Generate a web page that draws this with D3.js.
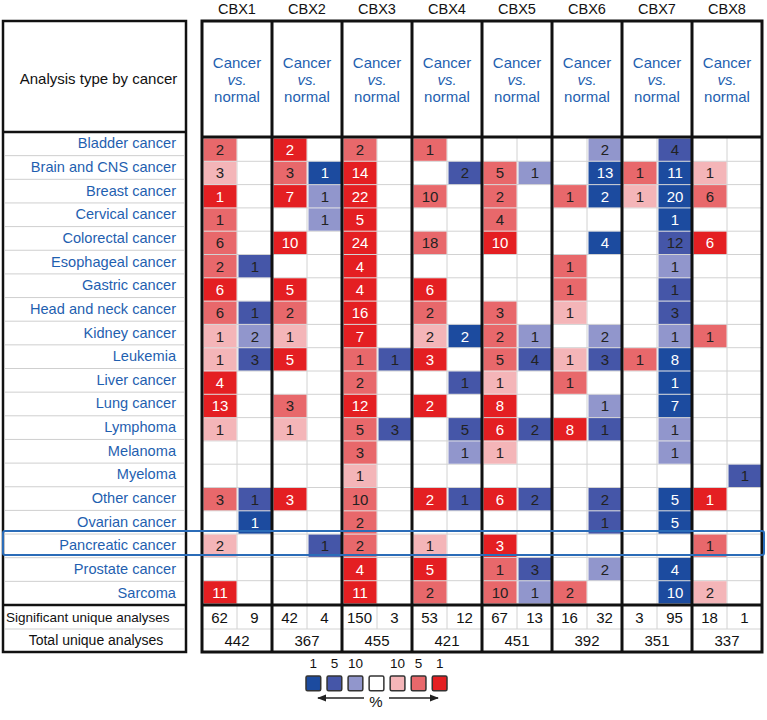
<!DOCTYPE html>
<html>
<head>
<meta charset="utf-8">
<script src="https://cdn.jsdelivr.net/npm/d3@7"></script>
<style>
html,body{margin:0;padding:0;background:#fff;}
svg text{font-family:"Liberation Sans",Arial,Helvetica,sans-serif;}
</style>
</head>
<body>
<svg id="chart" width="767" height="720"></svg>
<script>
const genes = ["CBX1","CBX2","CBX3","CBX4","CBX5","CBX6","CBX7","CBX8"];
const cancers = ["Bladder cancer","Brain and CNS cancer","Breast cancer","Cervical cancer","Colorectal cancer",
  "Esophageal cancer","Gastric cancer","Head and neck cancer","Kidney cancer","Leukemia","Liver cancer",
  "Lung cancer","Lymphoma","Melanoma","Myeloma","Other cancer","Ovarian cancer","Pancreatic cancer",
  "Prostate cancer","Sarcoma"];
const highlighted = "Pancreatic cancer";

// over-expression analyses (cancer > normal): rows = cancers, cols = genes
const upCounts = [
  [2,2,2,1,null,null,null,null],
  [3,3,14,null,5,null,1,1],
  [1,7,22,10,2,1,1,6],
  [1,null,5,null,4,null,null,null],
  [6,10,24,18,10,null,null,6],
  [2,null,4,null,null,1,null,null],
  [6,5,4,6,null,1,null,null],
  [6,2,16,2,3,1,null,null],
  [1,1,7,2,2,null,null,1],
  [1,5,1,3,5,1,1,null],
  [4,null,2,null,1,1,null,null],
  [13,3,12,2,8,null,null,null],
  [1,1,5,null,6,8,null,null],
  [null,null,3,null,1,null,null,null],
  [null,null,1,null,null,null,null,null],
  [3,3,10,2,6,null,null,1],
  [null,null,2,null,null,null,null,null],
  [2,null,2,1,3,null,null,1],
  [null,null,4,5,1,null,null,null],
  [11,null,11,2,10,2,null,2]
];
// best gene rank percentile (1, 5, 10 %) of the over-expression cells; 0 = none
const upRanks = [
  [5,1,5,5,0,0,0,0],
  [10,5,1,0,5,0,5,10],
  [1,1,1,5,5,5,10,5],
  [5,0,1,0,5,0,0,0],
  [5,1,1,5,1,0,0,1],
  [5,0,1,0,0,5,0,0],
  [1,1,1,1,0,5,0,0],
  [5,5,1,5,5,10,0,0],
  [10,10,1,10,5,0,0,5],
  [10,1,5,1,5,10,5,0],
  [1,0,5,0,10,5,0,0],
  [1,5,1,1,1,0,0,0],
  [10,10,5,0,1,1,0,0],
  [0,0,5,0,10,0,0,0],
  [0,0,10,0,0,0,0,0],
  [5,1,5,1,1,0,0,1],
  [0,0,5,0,0,0,0,0],
  [10,0,5,10,1,0,0,5],
  [0,0,1,1,5,0,0,0],
  [1,0,1,5,5,5,0,10]
];
// under-expression analyses (cancer < normal)
const downCounts = [
  [null,null,null,null,null,2,4,null],
  [null,1,null,2,1,13,11,null],
  [null,1,null,null,null,2,20,null],
  [null,1,null,null,null,null,1,null],
  [null,null,null,null,null,4,12,null],
  [1,null,null,null,null,null,1,null],
  [null,null,null,null,null,null,1,null],
  [1,null,null,null,null,null,3,null],
  [2,null,null,2,1,2,1,null],
  [3,null,1,null,4,3,8,null],
  [null,null,null,1,null,null,1,null],
  [null,null,null,null,null,1,7,null],
  [null,null,3,5,2,1,1,null],
  [null,null,null,1,null,null,1,null],
  [null,null,null,null,null,null,null,1],
  [1,null,null,1,2,2,5,null],
  [1,null,null,null,null,1,5,null],
  [null,1,null,null,null,null,null,null],
  [null,null,null,null,3,2,4,null],
  [null,null,null,null,1,null,10,null]
];
const downRanks = [
  [0,0,0,0,0,10,5,0],
  [0,1,0,5,10,1,1,0],
  [0,10,0,0,0,1,1,0],
  [0,10,0,0,0,0,1,0],
  [0,0,0,0,0,1,5,0],
  [5,0,0,0,0,0,10,0],
  [0,0,0,0,0,0,5,0],
  [5,0,0,0,0,0,5,0],
  [10,0,0,1,10,10,10,0],
  [5,0,5,0,5,5,1,0],
  [0,0,0,5,0,0,1,0],
  [0,0,0,0,0,10,1,0],
  [0,0,5,5,5,5,10,0],
  [0,0,0,10,0,0,10,0],
  [0,0,0,0,0,0,0,5],
  [5,0,0,5,5,5,1,0],
  [1,0,0,0,0,5,1,0],
  [0,5,0,0,0,0,0,0],
  [0,0,0,0,5,10,1,0],
  [0,0,0,0,10,0,1,0]
];
const sigUp = [62,42,150,53,67,16,3,18];
const sigDown = [9,4,3,12,13,32,95,1];
const totals = [442,367,455,421,451,392,351,337];
const legendLabels = ["1","5","10","","10","5","1"];
const legendDirections = ["down","down","down","none","up","up","up"];
const legendRanks = [1,5,10,0,10,5,1];

const svg = d3.select("#chart");
const blue = "#1f5fb0";
const redColor = d3.scaleOrdinal().domain([1,5,10]).range(["#e41f22","#e8686b","#f4b5b8"]);
const blueColor = d3.scaleOrdinal().domain([1,5,10]).range(["#1c4b9f","#4556a8","#9196cc"]);

// scales
const xGroup = d3.scaleBand().domain(genes).range([202, 762]);
const xSub = d3.scaleBand().domain(["up","down"]).range([0, xGroup.bandwidth()]);
const yRow = d3.scaleBand().domain(cancers).range([138, 604]);
const yLeft = d3.scaleBand().domain(cancers).range([132, 605]);
const L = {x0:3, x1:186, top:21, head:132, sig:605, tot:629, bottom:652};
const T = {head:137, sig:605, tot:629, bottom:652};

// gene labels
svg.selectAll("text.gene").data(genes).join("text")
  .attr("class","gene")
  .attr("x", g => xGroup(g) + xGroup.bandwidth()/2)
  .attr("y", 14)
  .attr("text-anchor","middle")
  .attr("font-size", 14.5)
  .attr("fill","#111")
  .text(g => g);

// ---------- left box ----------
const left = svg.append("g");
left.selectAll("line.lrow").data(cancers.slice(1)).join("line")
  .attr("x1", L.x0+2).attr("x2", L.x1-2)
  .attr("y1", c => yLeft(c)).attr("y2", c => yLeft(c))
  .attr("stroke","#cfcfcf").attr("stroke-width",1);
left.append("line").attr("x1",L.x0+2).attr("x2",L.x1-2).attr("y1",L.tot).attr("y2",L.tot)
  .attr("stroke","#cfcfcf").attr("stroke-width",1);
left.selectAll("text.can").data(cancers).join("text")
  .attr("class","can")
  .attr("x", 176)
  .attr("y", c => yLeft(c) + yLeft.bandwidth()/2 + 4.5)
  .attr("text-anchor","end")
  .attr("font-size", 14.6)
  .attr("fill", blue)
  .text(c => c);
left.append("text").attr("x", 98.5).attr("y", 84).attr("text-anchor","middle")
  .attr("font-size",15).attr("fill","#111").text("Analysis type by cancer");
left.append("text").attr("x", 6).attr("y", L.sig + 17).attr("font-size",13.5).attr("fill","#111")
  .text("Significant unique analyses");
left.append("text").attr("x", 96).attr("y", L.tot + 16).attr("text-anchor","middle")
  .attr("font-size",14).attr("fill","#111").text("Total unique analyses");
left.append("rect").attr("x",L.x0).attr("y",L.top).attr("width",L.x1-L.x0).attr("height",L.bottom-L.top)
  .attr("fill","none").attr("stroke","#111").attr("stroke-width",2.5);
[L.head, L.sig].forEach(y => left.append("line").attr("x1",L.x0).attr("x2",L.x1).attr("y1",y).attr("y2",y)
  .attr("stroke","#111").attr("stroke-width",2.5));

// ---------- right table ----------
const tbl = svg.append("g");
// gray grid
tbl.selectAll("line.hrow").data(cancers.slice(1)).join("line")
  .attr("x1",202).attr("x2",762)
  .attr("y1", c => yRow(c)).attr("y2", c => yRow(c))
  .attr("stroke","#d2d2d2").attr("stroke-width",1);
tbl.selectAll("line.vsub").data(genes).join("line")
  .attr("x1", g => xGroup(g) + xSub("down")).attr("x2", g => xGroup(g) + xSub("down"))
  .attr("y1", T.head).attr("y2", T.tot)
  .attr("stroke","#d2d2d2").attr("stroke-width",1);
tbl.append("line").attr("x1",202).attr("x2",762).attr("y1",T.tot).attr("y2",T.tot)
  .attr("stroke","#d2d2d2").attr("stroke-width",1);

// cells
const cells = [];
cancers.forEach((c, i) => {
  genes.forEach((g, j) => {
    if (upCounts[i][j] != null) cells.push({c, g, dir:"up", v:upCounts[i][j], r:upRanks[i][j]});
    if (downCounts[i][j] != null) cells.push({c, g, dir:"down", v:downCounts[i][j], r:downRanks[i][j]});
  });
});
const cellG = tbl.selectAll("g.cell").data(cells).join("g").attr("class","cell")
  .attr("transform", d => `translate(${xGroup(d.g) + xSub(d.dir)},${yRow(d.c)})`);
cellG.append("rect")
  .attr("x", 1.5).attr("y", 0.5)
  .attr("width", xSub.bandwidth() - 2).attr("height", yRow.bandwidth() - 1)
  .attr("fill", d => d.dir === "up" ? redColor(d.r) : blueColor(d.r));
cellG.append("text")
  .attr("x", xSub.bandwidth()/2 + 0.5)
  .attr("y", yRow.bandwidth()/2 + 5.5)
  .attr("text-anchor","middle")
  .attr("font-size", 15)
  .attr("fill", d => d.r === 1 ? "#fff" : "#222")
  .text(d => d.v);

// header text
const head = tbl.selectAll("g.head").data(genes).join("g").attr("class","head")
  .attr("transform", g => `translate(${xGroup(g) + xGroup.bandwidth()/2},0)`);
head.append("text").attr("y", 68).attr("text-anchor","middle").attr("font-size",15).attr("fill",blue).text("Cancer");
head.append("text").attr("y", 85).attr("text-anchor","middle").attr("font-size",15).attr("font-style","italic").attr("fill",blue).text("vs.");
head.append("text").attr("y", 102).attr("text-anchor","middle").attr("font-size",15).attr("fill",blue).text("normal");

// significant & totals
genes.forEach((g, j) => {
  tbl.append("text").attr("x", xGroup(g) + xSub("up") + xSub.bandwidth()/2).attr("y", T.sig + 17.5)
    .attr("text-anchor","middle").attr("font-size",15).attr("fill","#111").text(sigUp[j]);
  tbl.append("text").attr("x", xGroup(g) + xSub("down") + xSub.bandwidth()/2).attr("y", T.sig + 17.5)
    .attr("text-anchor","middle").attr("font-size",15).attr("fill","#111").text(sigDown[j]);
  tbl.append("text").attr("x", xGroup(g) + xGroup.bandwidth()/2).attr("y", T.tot + 16.5)
    .attr("text-anchor","middle").attr("font-size",15).attr("fill","#111").text(totals[j]);
});

// thick lines
tbl.append("rect").attr("x",202).attr("y",L.top).attr("width",560).attr("height",T.bottom-L.top)
  .attr("fill","none").attr("stroke","#111").attr("stroke-width",3);
tbl.selectAll("line.vg").data(genes.slice(1)).join("line")
  .attr("x1", g => xGroup(g)).attr("x2", g => xGroup(g))
  .attr("y1", L.top).attr("y2", T.bottom)
  .attr("stroke","#111").attr("stroke-width",3);
[T.head, T.sig].forEach(y => tbl.append("line").attr("x1",202).attr("x2",762).attr("y1",y).attr("y2",y)
  .attr("stroke","#111").attr("stroke-width",3));

// highlight box
svg.append("rect")
  .attr("x", 3).attr("y", yRow(highlighted) - 3)
  .attr("width", 761).attr("height", yRow.bandwidth() + 0.5)
  .attr("rx", 2)
  .attr("fill","none").attr("stroke","#2b6cb8").attr("stroke-width",2);

// ---------- legend ----------
const lx = d3.scaleBand().domain(d3.range(legendLabels.length)).range([306, 447]).paddingInner(0.3);
const leg = svg.append("g");
leg.selectAll("text.ll").data(legendLabels).join("text")
  .attr("x", (d,i) => lx(i) + lx.bandwidth()/2)
  .attr("y", 668)
  .attr("text-anchor","middle").attr("font-size",13.5).attr("fill","#111")
  .text(d => d);
leg.selectAll("rect.ls").data(legendRanks).join("rect")
  .attr("x", (d,i) => lx(i)).attr("y", 676)
  .attr("width", lx.bandwidth()).attr("height", lx.bandwidth())
  .attr("rx",1.5)
  .attr("fill", (d,i) => legendDirections[i] === "down" ? blueColor(d) : legendDirections[i] === "up" ? redColor(d) : "#fff")
  .attr("stroke","#333").attr("stroke-width",1.5);
const ay = 698;
const defs = svg.append("defs");
defs.append("marker").attr("id","arr").attr("viewBox","0 0 10 10").attr("refX",9).attr("refY",5)
  .attr("markerWidth",7).attr("markerHeight",7).attr("orient","auto-start-reverse")
  .append("path").attr("d","M0,1 L10,5 L0,9 Z").attr("fill","#222");
leg.append("line").attr("x1", 364).attr("x2", 318).attr("y1", ay).attr("y2", ay)
  .attr("stroke","#222").attr("stroke-width",1.3).attr("marker-end","url(#arr)");
leg.append("line").attr("x1", 389).attr("x2", 438).attr("y1", ay).attr("y2", ay)
  .attr("stroke","#222").attr("stroke-width",1.3).attr("marker-end","url(#arr)");
leg.append("text").attr("x", 376).attr("y", ay + 9).attr("text-anchor","middle")
  .attr("font-size",15).attr("fill","#111").text("%");
</script>
</body>
</html>
